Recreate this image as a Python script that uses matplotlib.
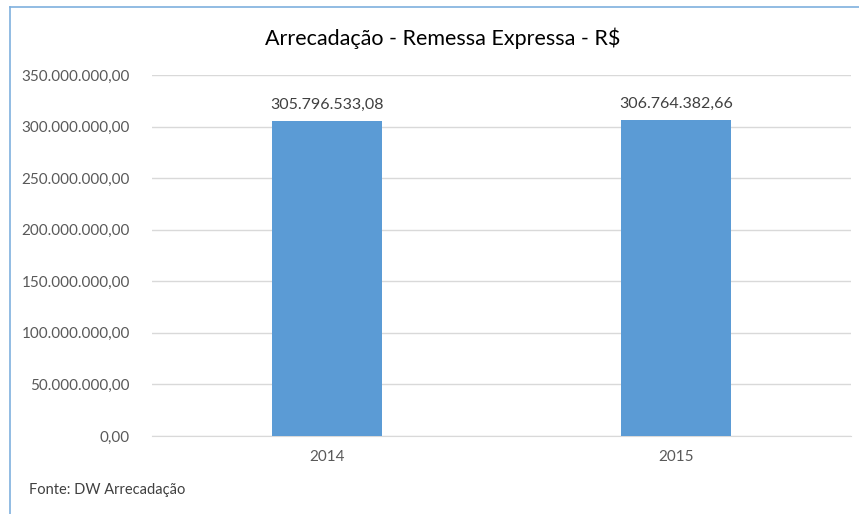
import matplotlib.pyplot as plt
from matplotlib.lines import Line2D
import numpy as np

# dados
anos = ['2014', '2015']
valores = [305796533.08, 306764382.66]
rotulos = ['305.796.533,08', '306.764.382,66']
yticks = [0, 50e6, 100e6, 150e6, 200e6, 250e6, 300e6, 350e6]


def fmt_br(v):
    s = '{:,.2f}'.format(v)
    return s.replace(',', 'X').replace('.', ',').replace('X', '.')


plt.rcParams['font.family'] = ['Lato', 'DejaVu Sans']

fig = plt.figure(figsize=(8.59, 5.14), dpi=100)
ax = fig.add_axes([152 / 859, 1 - 436 / 514, (851 - 152) / 859, (436 - 75) / 514])

x = np.arange(len(anos))
bars = ax.bar(x, valores, width=0.315, color='#5B9BD5', zorder=3)

for b, r in zip(bars, rotulos):
    ax.annotate(r, (b.get_x() + b.get_width() / 2, b.get_height()),
                xytext=(0, 6), textcoords='offset points',
                ha='center', va='bottom', fontsize=11.5, color='#404040')

ax.set_xlim(-0.5, 1.5)
ax.set_ylim(0, 350e6)
ax.set_xticks(x)
ax.set_xticklabels(anos)
ax.set_yticks(yticks)
ax.set_yticklabels([fmt_br(v) for v in yticks])
ax.tick_params(axis='both', length=0, labelsize=11, colors='#595959')
ax.tick_params(axis='y', pad=16)
ax.tick_params(axis='x', pad=10)

ax.grid(axis='y', color='#D9D9D9', linewidth=1, zorder=0)
for s in ['top', 'right', 'left']:
    ax.spines[s].set_visible(False)
ax.spines['bottom'].set_color('#D9D9D9')

fig.text(443 / 859, 1 - 38 / 514, 'Arrecadação - Remessa Expressa - R$',
         ha='center', va='center', fontsize=15.5, color='#000000')
fig.text(29 / 859, 1 - 490 / 514, 'Fonte: DW Arrecadação',
         ha='left', va='center', fontsize=10.5, color='#404040')

# moldura do gráfico (so topo e lado esquerdo aparecem)
fig.add_artist(Line2D([10 / 859, 10 / 859], [0, 1 - 7 / 514],
                      transform=fig.transFigure, color='#7FB0DE', linewidth=1.2))
fig.add_artist(Line2D([10 / 859, 1], [1 - 7 / 514, 1 - 7 / 514],
                      transform=fig.transFigure, color='#7FB0DE', linewidth=1.2))

fig.savefig('out.png', dpi=100)
